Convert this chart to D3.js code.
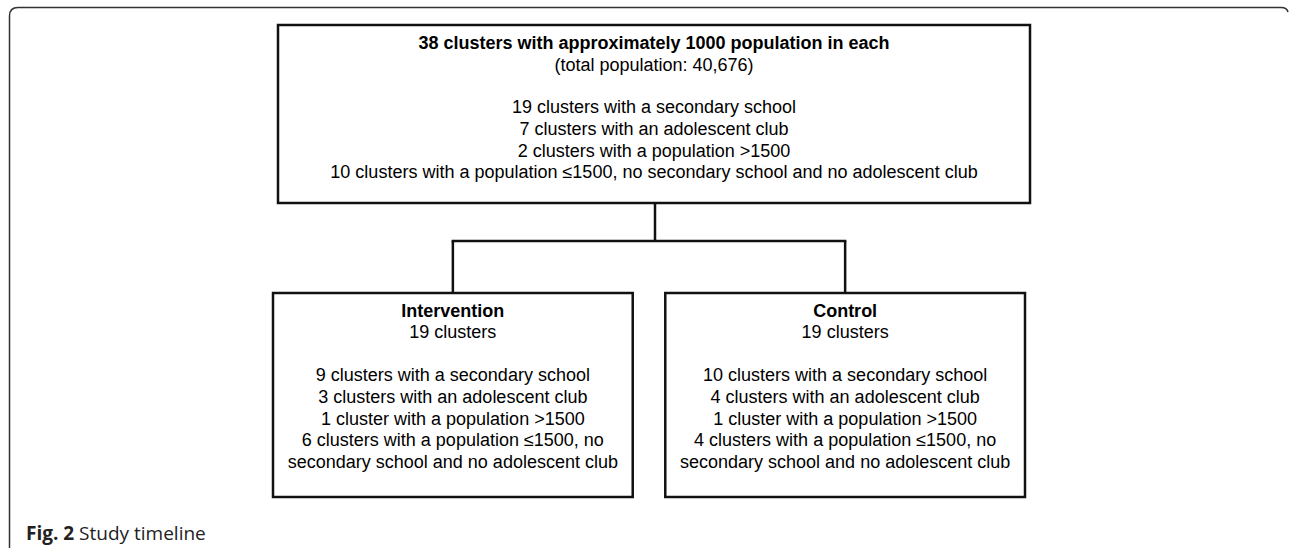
<!DOCTYPE html>
<html>
<head>
<meta charset="utf-8">
<script src="https://cdn.jsdelivr.net/npm/d3@7"></script>
<style>
  html, body { margin: 0; padding: 0; background: #fff; }
  svg { display: block; }
</style>
</head>
<body>
<svg id="chart"></svg>
<script>
// top box content
const topTitle = "38 clusters with approximately 1000 population in each";
const topSubtitle = "(total population: 40,676)";
const topLines = [
    "19 clusters with a secondary school",
    "7 clusters with an adolescent club",
    "2 clusters with a population >1500",
    "10 clusters with a population \u22641500, no secondary school and no adolescent club"
];

// the two arms
const groups = ["Intervention", "Control"];
const groupCounts = ["19 clusters", "19 clusters"];
const groupLines = [
    [
        "9 clusters with a secondary school",
        "3 clusters with an adolescent club",
        "1 cluster with a population >1500",
        "6 clusters with a population \u22641500, no",
        "secondary school and no adolescent club"
    ],
    [
        "10 clusters with a secondary school",
        "4 clusters with an adolescent club",
        "1 cluster with a population >1500",
        "4 clusters with a population \u22641500, no",
        "secondary school and no adolescent club"
    ]
];

const captionBold = "Fig. 2";
const captionText = " Study timeline";

const width = 1290, height = 548;
const font = "'Liberation Sans', Arial, sans-serif";
const fs = 18;

const svg = d3.select("#chart").attr("width", width).attr("height", height);

// outer figure frame (open to the right)
svg.append("path")
    .attr("d", "M9.5,548 L9.5,16 Q9.5,7.5 18,7.5 L1281,7.5 Q1287,7.5 1288,12")
    .attr("fill", "none")
    .attr("stroke", "#333")
    .attr("stroke-width", 1.5);

// top box
const topBox = { x: 278, y: 25, w: 752, h: 178 };
svg.append("rect")
    .attr("x", topBox.x).attr("y", topBox.y)
    .attr("width", topBox.w).attr("height", topBox.h)
    .attr("fill", "none").attr("stroke", "#111").attr("stroke-width", 2.5);

const cx = topBox.x + topBox.w / 2;
svg.append("text")
    .attr("x", cx).attr("y", 43 + fs * 0.35)
    .attr("text-anchor", "middle")
    .attr("font-family", font).attr("font-size", fs).attr("font-weight", "bold")
    .text(topTitle);
svg.append("text")
    .attr("x", cx).attr("y", 65 + fs * 0.35)
    .attr("text-anchor", "middle")
    .attr("font-family", font).attr("font-size", fs)
    .text(topSubtitle);
svg.selectAll(".topLine")
    .data(topLines)
    .enter()
    .append("text")
    .attr("class", "topLine")
    .attr("x", cx)
    .attr("y", (d, i) => 107 + i * 21.7 + fs * 0.35)
    .attr("text-anchor", "middle")
    .attr("font-family", font).attr("font-size", fs)
    .text(d => d);

// arm boxes placed with a band scale
const xScale = d3.scaleBand()
    .domain(groups)
    .range([273, 1025])
    .paddingInner(0.083);
const boxTop = 293, boxBottom = 497;

// connectors
const midY = 241;
const cxs = groups.map(g => xScale(g) + xScale.bandwidth() / 2);
const conn = svg.append("g")
    .attr("fill", "none").attr("stroke", "#111").attr("stroke-width", 2.5);
conn.append("line").attr("x1", 655).attr("x2", 655).attr("y1", topBox.y + topBox.h).attr("y2", midY);
conn.append("line").attr("x1", cxs[0]).attr("x2", cxs[1]).attr("y1", midY).attr("y2", midY)
    .attr("stroke-linecap", "square");
cxs.forEach(x => {
    conn.append("line").attr("x1", x).attr("x2", x).attr("y1", midY).attr("y2", boxTop);
});

const arm = svg.selectAll(".arm")
    .data(groups)
    .enter()
    .append("g")
    .attr("class", "arm")
    .attr("transform", d => `translate(${xScale(d)},0)`);

arm.append("rect")
    .attr("x", 0).attr("y", boxTop)
    .attr("width", xScale.bandwidth()).attr("height", boxBottom - boxTop)
    .attr("fill", "none").attr("stroke", "#111").attr("stroke-width", 2.5);

arm.append("text")
    .attr("x", xScale.bandwidth() / 2).attr("y", 311 + fs * 0.35)
    .attr("text-anchor", "middle")
    .attr("font-family", font).attr("font-size", fs).attr("font-weight", "bold")
    .text(d => d);

arm.append("text")
    .attr("x", xScale.bandwidth() / 2).attr("y", 332 + fs * 0.35)
    .attr("text-anchor", "middle")
    .attr("font-family", font).attr("font-size", fs)
    .text((d, i) => groupCounts[i]);

arm.each(function (d, i) {
    d3.select(this).selectAll(".armLine")
        .data(groupLines[i])
        .enter()
        .append("text")
        .attr("class", "armLine")
        .attr("x", xScale.bandwidth() / 2)
        .attr("y", (t, j) => 375 + j * 21.7 + fs * 0.35)
        .attr("text-anchor", "middle")
        .attr("font-family", font).attr("font-size", fs)
        .text(t => t);
});

// caption
const cap = svg.append("text")
    .attr("x", 26).attr("y", 540)
    .attr("font-family", "'Open Sans', sans-serif").attr("font-size", 19)
    .attr("fill", "#222");
cap.append("tspan").attr("font-weight", "bold").text(captionBold);
cap.append("tspan").text(captionText);
</script>
</body>
</html>
